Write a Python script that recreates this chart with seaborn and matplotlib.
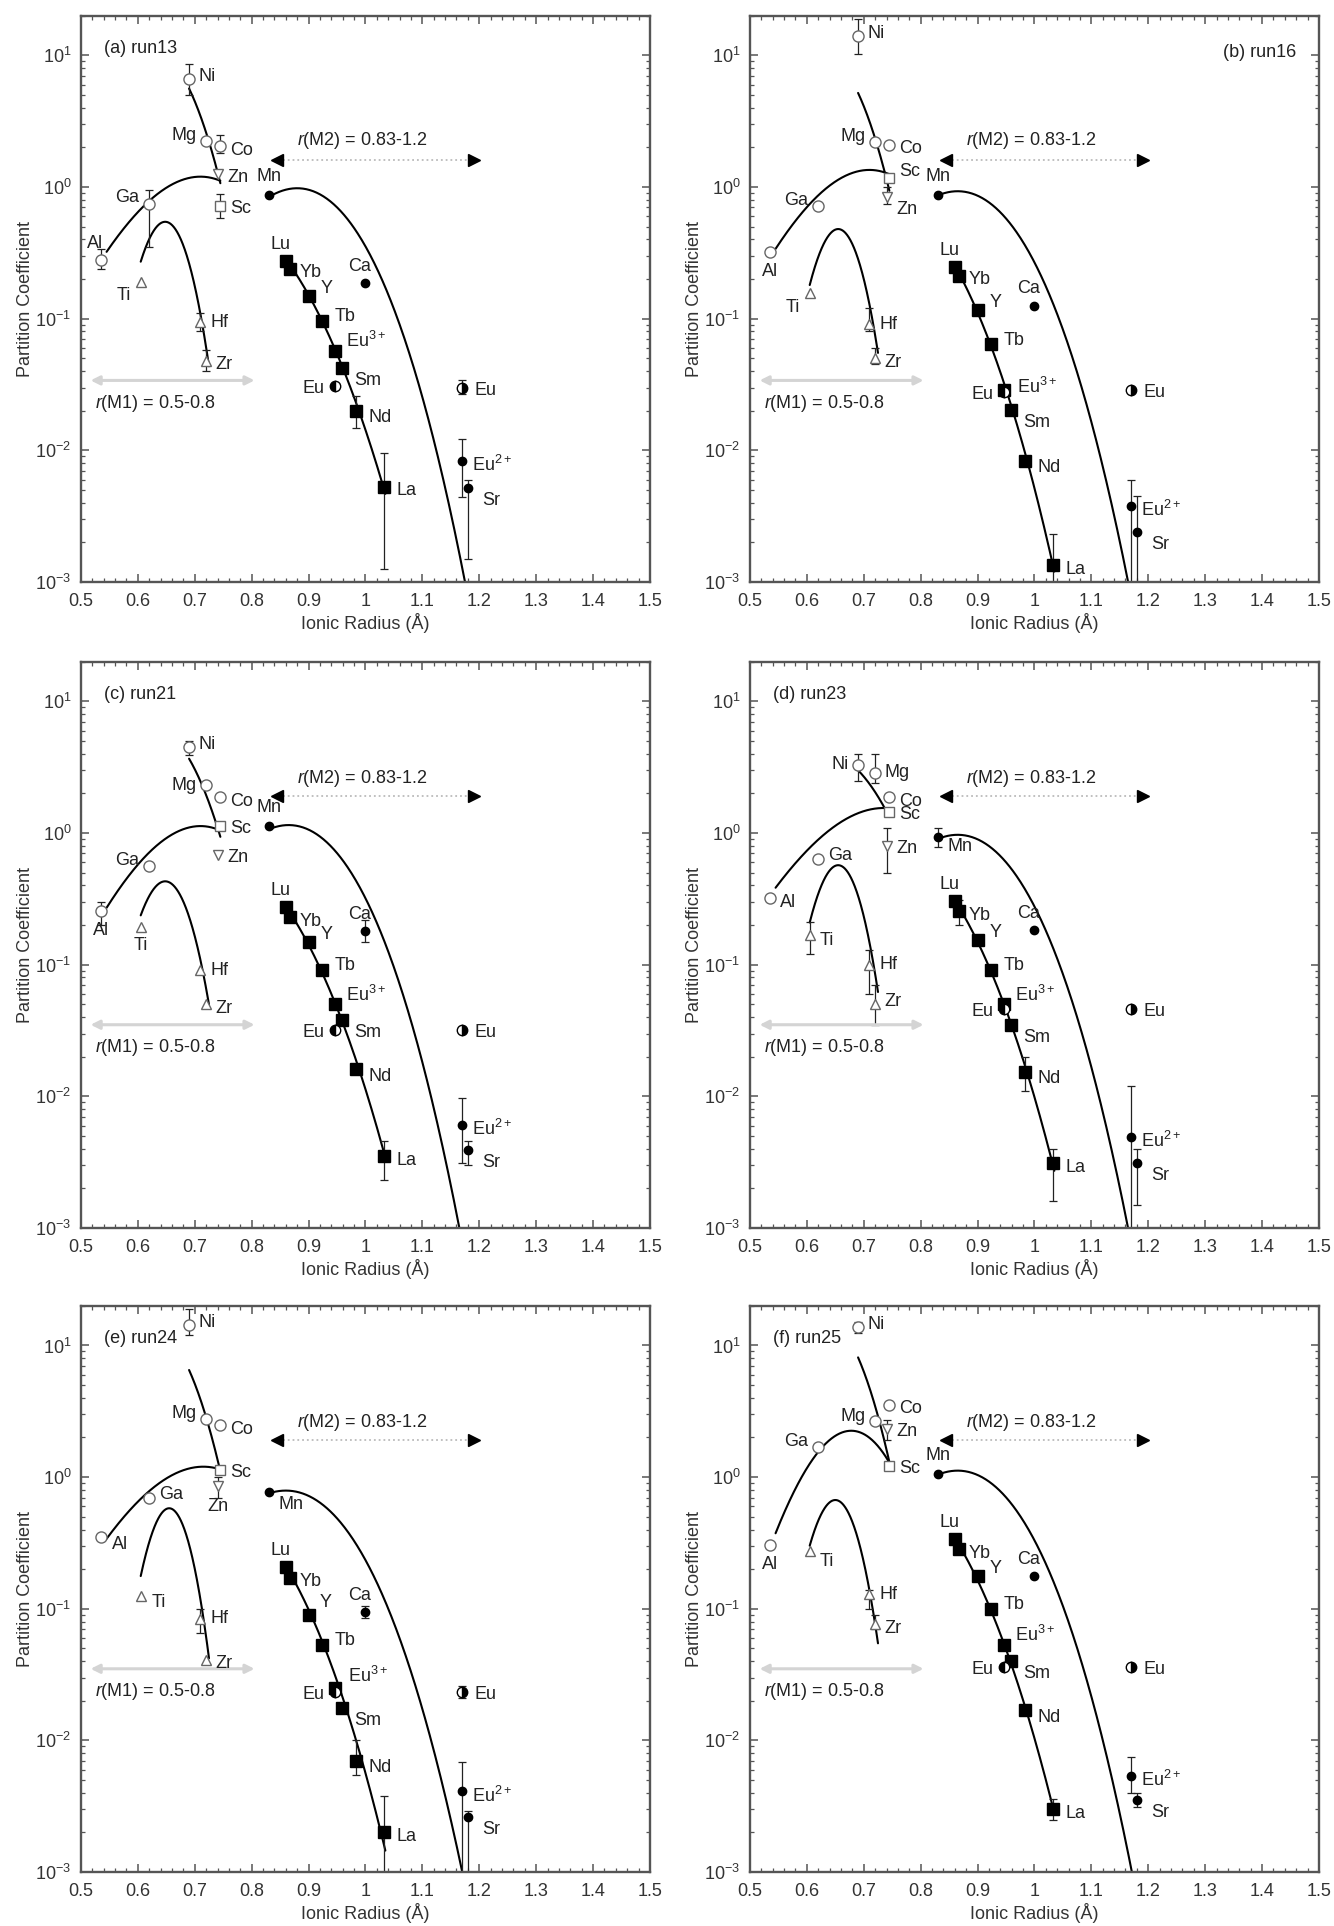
import numpy as np
import pandas as pd
import matplotlib
matplotlib.use('Agg')
import matplotlib.pyplot as plt
import seaborn as sns
from matplotlib.ticker import MultipleLocator, LogLocator, FuncFormatter, NullFormatter

# elements, labels and ionic radii (Angstrom)
elements = ['Al', 'Ti', 'Ga', 'Ni', 'Hf', 'Mg', 'Zr', 'Zn', 'Co', 'Sc',
            'Mn', 'Lu', 'Yb', 'Y', 'Tb', 'Eu3+', 'Sm', 'Eu_lo', 'Nd', 'Ca',
            'La', 'Eu_hi', 'Eu2+', 'Sr']
labels = ['Al', 'Ti', 'Ga', 'Ni', 'Hf', 'Mg', 'Zr', 'Zn', 'Co', 'Sc',
          'Mn', 'Lu', 'Yb', 'Y', 'Tb', 'Eu$^{3+}$', 'Sm', 'Eu', 'Nd', 'Ca',
          'La', 'Eu', 'Eu$^{2+}$', 'Sr']
radius = [0.535, 0.605, 0.62, 0.69, 0.71, 0.72, 0.72, 0.74, 0.745, 0.745,
          0.83, 0.861, 0.868, 0.90, 0.923, 0.947, 0.958, 0.947, 0.983, 1.00,
          1.032, 1.17, 1.17, 1.18]

run_names = ['(a) run13', '(b) run16', '(c) run21', '(d) run23', '(e) run24', '(f) run25']

# partition coefficients, same order as elements
D_run13 = [0.28, 0.19, 0.75, 6.6, 0.094, 2.25, 0.048, 1.25, 2.05, 0.72,
           0.87, 0.276, 0.24, 0.15, 0.096, 0.057, 0.042, 0.031, 0.020, 0.186,
           0.0053, 0.030, 0.0083, 0.0052]
D_run16 = [0.32, 0.156, 0.72, 14.1, 0.091, 2.2, 0.05, 0.84, 2.1, 1.17,
           0.87, 0.248, 0.212, 0.117, 0.064, 0.029, 0.0203, 0.028, 0.0083, 0.126,
           0.00134, 0.029, 0.0038, 0.0024]
D_run21 = [0.255, 0.195, 0.56, 4.5, 0.091, 2.3, 0.05, 0.68, 1.87, 1.14,
           1.14, 0.274, 0.23, 0.15, 0.091, 0.050, 0.038, 0.032, 0.016, 0.179,
           0.0035, 0.032, 0.0061, 0.0039]
D_run23 = [0.32, 0.167, 0.64, 3.3, 0.10, 2.86, 0.05, 0.8, 1.87, 1.45,
           0.93, 0.305, 0.255, 0.155, 0.091, 0.050, 0.035, 0.046, 0.0154, 0.183,
           0.0031, 0.046, 0.0049, 0.0031]
D_run24 = [0.35, 0.125, 0.69, 14.3, 0.084, 2.77, 0.041, 0.86, 2.49, 1.14,
           0.77, 0.208, 0.172, 0.09, 0.053, 0.025, 0.0176, 0.0233, 0.0070, 0.094,
           0.0020, 0.0233, 0.0041, 0.0026]
D_run25 = [0.304, 0.273, 1.68, 13.8, 0.129, 2.67, 0.076, 2.32, 3.56, 1.22,
           1.06, 0.339, 0.283, 0.178, 0.10, 0.053, 0.04, 0.036, 0.017, 0.176,
           0.003, 0.036, 0.0054, 0.0035]

# visible error bars: element -> (low, high)
err_run13 = {'Ni': (5.0, 8.6), 'Co': (1.8, 2.5), 'Sc': (0.58, 0.88), 'Ga': (0.35, 0.95),
             'Al': (0.24, 0.34), 'Hf': (0.08, 0.11), 'Zr': (0.04, 0.058), 'Nd': (0.0147, 0.026),
             'La': (0.00126, 0.0095), 'Eu2+': (0.0044, 0.0123), 'Sr': (0.0015, 0.006),
             'Eu_hi': (0.027, 0.034)}
err_run16 = {'Ni': (10.2, 18.8), 'Zn': (0.75, 1.0), 'Hf': (0.08, 0.12), 'Zr': (0.045, 0.06),
             'La': (0.001, 0.0023), 'Eu2+': (0.001, 0.006), 'Sr': (0.001, 0.0045)}
err_run21 = {'Al': (0.2, 0.3), 'Ni': (3.9, 5.0), 'Ca': (0.15, 0.22), 'La': (0.0023, 0.0046),
             'Eu2+': (0.0031, 0.0097), 'Sr': (0.003, 0.0046)}
err_run23 = {'Ni': (2.5, 4.0), 'Mg': (2.4, 4.0), 'Zn': (0.5, 1.1), 'Ti': (0.12, 0.21),
             'Hf': (0.06, 0.13), 'Zr': (0.035, 0.07), 'Mn': (0.78, 1.1), 'Yb': (0.2, 0.31),
             'Nd': (0.011, 0.02), 'La': (0.0016, 0.004), 'Eu2+': (0.001, 0.012),
             'Sr': (0.0015, 0.004)}
err_run24 = {'Ni': (12.0, 19.0), 'Zn': (0.7, 1.0), 'Hf': (0.065, 0.1), 'Ca': (0.085, 0.105),
             'Nd': (0.0055, 0.01), 'La': (0.001, 0.0038), 'Eu2+': (0.001, 0.0069),
             'Sr': (0.001, 0.0029), 'Eu_hi': (0.021, 0.026)}
err_run25 = {'Ni': (12.5, 15.0), 'Zn': (1.9, 2.7), 'Hf': (0.1, 0.14), 'Zr': (0.07, 0.09),
             'La': (0.0025, 0.0036), 'Eu2+': (0.004, 0.0075), 'Sr': (0.0031, 0.004)}

# lattice strain fits per run: (D0, r0, k)
fit_m1_3plus = [(1.2, 0.71, 161), (1.35, 0.71, 169), (1.13, 0.71, 175),
                (1.55, 0.735, 127), (1.2, 0.715, 145), (2.25, 0.678, 344)]
fit_m1_4plus = [(0.545, 0.648, 1219), (0.48, 0.655, 1260), (0.43, 0.648, 1040),
                (0.57, 0.655, 1290), (0.58, 0.655, 1526), (0.67, 0.65, 1273)]
fit_m1_2plus = [(11.3, 0.62, 429), (10.7, 0.62, 443), (6.55, 0.62, 354),
                (4.24, 0.62, 212), (13.8, 0.62, 460), (17.6, 0.62, 474)]
fit_m2_2plus = [(0.98, 0.88, 147), (0.93, 0.865, 143), (1.15, 0.865, 147),
                (0.97, 0.865, 144), (0.79, 0.86, 130), (1.12, 0.865, 140)]
fit_m2_3plus = [(0.79, 0.70, 99), (0.96, 0.70, 129), (0.83, 0.70, 106),
                (1.0, 0.70, 114), (0.73, 0.70, 120), (1.14, 0.70, 116)]

all_D = [D_run13, D_run16, D_run21, D_run23, D_run24, D_run25]
all_err = [err_run13, err_run16, err_run21, err_run23, err_run24, err_run25]
fits = [(fit_m1_3plus, (0.545, 0.745)), (fit_m1_4plus, (0.605, 0.725)),
        (fit_m1_2plus, (0.69, 0.745)), (fit_m2_2plus, (0.83, 1.19)),
        (fit_m2_3plus, (0.86, 1.035))]

# label offsets in points (dx, dy, ha)
label_pos = {'Al': (0, -14, 'center'), 'Ti': (-7, -10, 'right'), 'Ga': (-7, 4, 'right'),
             'Ni': (7, 2, 'left'), 'Hf': (7, 0, 'left'), 'Mg': (-7, 4, 'right'),
             'Zr': (7, -3, 'left'), 'Zn': (7, -2, 'left'), 'Co': (7, -3, 'left'),
             'Sc': (7, -2, 'left'), 'Mn': (0, 13, 'center'), 'Lu': (-4, 12, 'center'),
             'Yb': (7, -3, 'left'), 'Y': (9, 5, 'left'), 'Tb': (9, 3, 'left'),
             'Eu3+': (8, 7, 'left'), 'Sm': (9, -9, 'left'), 'Eu_lo': (-8, -2, 'right'),
             'Nd': (9, -5, 'left'), 'Ca': (-4, 12, 'center'), 'La': (9, -3, 'left'),
             'Eu_hi': (9, -2, 'left'), 'Eu2+': (7, -3, 'left'), 'Sr': (10, -9, 'left')}
label_moves = [
    {'Al': (-4, 12, 'center')},
    {'Zn': (7, -9, 'left'), 'Sc': (7, 5, 'left'), 'Eu3+': (9, 2, 'left')},
    {'Ti': (0, -14, 'center'), 'Mg': (-7, 0, 'right')},
    {'Al': (7, -3, 'left'), 'Ti': (7, -4, 'left'), 'Ga': (7, 2, 'left'), 'Ni': (-7, 0, 'right'),
     'Mg': (7, 0, 'left'), 'Mn': (7, -7, 'left'), 'Zr': (7, 2, 'left')},
    {'Al': (8, -5, 'left'), 'Ti': (8, -5, 'left'), 'Ga': (7, 3, 'left'), 'Mn': (7, -9, 'left'),
     'Zn': (0, -15, 'center'), 'Eu3+': (9, 9, 'left'), 'Y': (8, 9, 'left')},
    {'Ti': (7, -7, 'left'), 'Mg': (-7, 3, 'right'), 'Sc': (7, -2, 'left')},
]

open_circle = ['Al', 'Ga', 'Ni', 'Mg', 'Co']
open_square = ['Sc']
open_up = ['Ti', 'Hf', 'Zr']
open_down = ['Zn']
ree = ['Lu', 'Yb', 'Y', 'Tb', 'Eu3+', 'Sm', 'Nd', 'La']
small_filled = ['Mn', 'Ca', 'Eu2+', 'Sr']

arrow_y = [1.6, 1.6, 1.9, 1.9, 1.9, 1.9]
m2_text_y = [2.25, 2.25, 2.6, 2.6, 2.6, 2.6]
m1_arrow_y = [0.034, 0.034, 0.035, 0.035, 0.035, 0.035]
m1_text_y = [0.0226, 0.0226, 0.0236, 0.0236, 0.0236, 0.0236]

sns.set_theme(style='ticks')
plt.rcParams['font.family'] = ['Liberation Sans', 'DejaVu Sans']
plt.rcParams['mathtext.fontset'] = 'custom'
plt.rcParams['mathtext.rm'] = 'Liberation Sans'
plt.rcParams['mathtext.it'] = 'Liberation Sans:italic'

fig = plt.figure(figsize=(13.34, 19.26), dpi=100)
lefts = [0.0607, 0.5622]
bottoms = [0.6978, 0.3624, 0.0280]
W, H = 0.4265, 0.2940

grey = '#555555'
txt = '#222222'
fs = 13


def marker_style(el):
    if el in open_circle:
        return dict(marker='o', ms=8, mfc='white', mec='#666666', mew=1.0)
    if el in open_square:
        return dict(marker='s', ms=7.5, mfc='white', mec='#666666', mew=1.0)
    if el in open_up:
        return dict(marker='^', ms=7, mfc='white', mec='#666666', mew=1.0)
    if el in open_down:
        return dict(marker='v', ms=7, mfc='white', mec='#666666', mew=1.0)
    if el in ree:
        return dict(marker='s', ms=9, mfc='black', mec='black', mew=1.0)
    if el in small_filled:
        return dict(marker='o', ms=6, mfc='black', mec='black', mew=1.0)
    if el == 'Eu_lo':
        return dict(marker='o', ms=7.5, fillstyle='left', mfc='black', mfcalt='white',
                    mec='black', mew=1.0)
    return dict(marker='o', ms=7.5, fillstyle='right', mfc='black', mfcalt='white',
                mec='black', mew=1.0)


for i in range(6):
    ax = fig.add_axes([lefts[i % 2], bottoms[i // 2], W, H])
    D = all_D[i]
    errs = all_err[i]

    # fitted lattice strain curves
    rows = []
    for j, (fit, (lo, hi)) in enumerate(fits):
        D0, r0, k = fit[i]
        rr = np.linspace(lo, hi, 300)
        dd = D0 * np.exp(-k * (r0 / 2 * (rr - r0) ** 2 + (rr - r0) ** 3 / 3))
        rows.append(pd.DataFrame({'r': rr, 'D': dd, 'curve': j}))
    curves = pd.concat(rows)
    sns.lineplot(data=curves, x='r', y='D', units='curve', estimator=None,
                 color='black', lw=1.5, ax=ax, legend=False, sort=False)

    # error bars
    for el, (elo, ehi) in errs.items():
        idx = elements.index(el)
        ax.errorbar(radius[idx], D[idx], yerr=[[D[idx] - elo], [ehi - D[idx]]],
                    fmt='none', ecolor='#222222', elinewidth=0.9, capsize=3, capthick=0.9)

    # points and labels
    pos = dict(label_pos)
    pos.update(label_moves[i])
    for idx, el in enumerate(elements):
        ax.plot(radius[idx], D[idx], ls='none', zorder=4, **marker_style(el))
        dx, dy, ha = pos[el]
        ax.annotate(labels[idx], (radius[idx], D[idx]), xytext=(dx, dy),
                    textcoords='offset points', ha=ha, va='center', fontsize=fs,
                    color=txt, zorder=5)

    # site radius ranges
    ax.plot([0.855, 1.18], [arrow_y[i]] * 2, ls=':', color='#bbbbbb', lw=1.3)
    ax.plot(0.845, arrow_y[i], marker='<', ms=9, color='black', ls='none')
    ax.plot(1.19, arrow_y[i], marker='>', ms=9, color='black', ls='none')
    ax.text(0.88, m2_text_y[i], '$r$(M2) = 0.83-1.2', fontsize=fs, va='center', ha='left',
            color=txt)
    ax.annotate('', xy=(0.512, m1_arrow_y[i]), xytext=(0.81, m1_arrow_y[i]),
                arrowprops=dict(arrowstyle='<|-|>', color='#d4d4d4', lw=2.2, mutation_scale=13))
    ax.text(0.525, m1_text_y[i], '$r$(M1) = 0.5-0.8', fontsize=fs, va='center', ha='left',
            color=txt)

    if i == 1:
        ax.text(1.46, 10.5, run_names[i], fontsize=fs, ha='right', va='center', color=txt)
    else:
        ax.text(0.54, 11.2, run_names[i], fontsize=fs, ha='left', va='center', color=txt)

    ax.set_yscale('log')
    ax.set_xlim(0.5, 1.5)
    ax.set_ylim(1e-3, 20)
    ax.xaxis.set_major_locator(MultipleLocator(0.1))
    ax.xaxis.set_minor_locator(MultipleLocator(0.02))
    ax.xaxis.set_major_formatter(FuncFormatter(lambda v, p: '%g' % round(v, 2)))
    ax.yaxis.set_major_locator(LogLocator(base=10, numticks=10))
    ax.yaxis.set_minor_locator(LogLocator(base=10, subs=np.arange(2, 10), numticks=20))
    ax.yaxis.set_minor_formatter(NullFormatter())
    ax.tick_params(which='both', direction='in', top=True, right=True, colors=grey,
                   labelcolor='#333333', labelsize=fs)
    ax.tick_params(axis='x', which='major', pad=8)
    ax.tick_params(axis='y', which='major', pad=7)
    ax.tick_params(which='major', length=6, width=1.1)
    ax.tick_params(which='minor', length=3, width=0.9)
    for s in ax.spines.values():
        s.set_color(grey)
        s.set_linewidth(1.7)
    ax.set_xlabel('Ionic Radius (Å)', fontsize=fs, color='#333333', labelpad=2)
    ax.set_ylabel('Partition Coefficient', fontsize=fs, color='#333333', labelpad=1)

fig.savefig('out.png', dpi=100)
